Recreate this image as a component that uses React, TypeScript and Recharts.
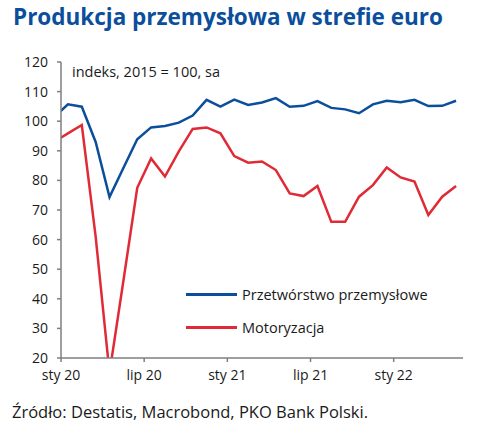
import { LineChart, Line, XAxis, YAxis } from 'recharts'

// monthly, Dec 2019 .. May 2022 (Dec 2019 only feeds the clipped line start)
const months = [
  '2019-12',
  '2020-01', '2020-02', '2020-03', '2020-04', '2020-05', '2020-06',
  '2020-07', '2020-08', '2020-09', '2020-10', '2020-11', '2020-12',
  '2021-01', '2021-02', '2021-03', '2021-04', '2021-05', '2021-06',
  '2021-07', '2021-08', '2021-09', '2021-10', '2021-11', '2021-12',
  '2022-01', '2022-02', '2022-03', '2022-04', '2022-05',
]

const manufacturing = [
  101.3,
  105.7, 104.9, 93.0, 74.4, 84.2, 93.9, 97.9, 98.4, 99.5, 101.9, 107.2, 104.9,
  107.3, 105.5, 106.3, 107.8, 104.9, 105.2, 106.8, 104.5, 104.0, 102.7, 105.7, 106.9,
  106.4, 107.2, 105.1, 105.2, 106.9,
]

const automotive = [
  93.0,
  95.9, 98.7, 61.0, 15.0, 46.0, 77.5, 87.4, 81.3, 89.8, 97.4, 97.9, 95.9,
  88.2, 86.0, 86.4, 83.5, 75.6, 74.7, 78.1, 66.0, 66.0, 74.5, 78.4, 84.4,
  81.0, 79.6, 68.3, 74.5, 78.1,
]

const yTicks = [20, 30, 40, 50, 60, 70, 80, 90, 100, 110, 120]
const xTicks = [0, 6, 12, 18, 24]
const xTickLabels = ['sty 20', 'lip 20', 'sty 21', 'lip 21', 'sty 22']

const seriesNames = ['Przetwórstwo przemysłowe', 'Motoryzacja']

const BLUE = '#0b4f9c'
const RED = '#e02a35'
const AXIS = '#7f7f7f'
const TEXT = '#1a1a1a'
const FONT = '"Open Sans", sans-serif'

// x = months since 1 Jan 2020, points sit mid-month
const data = months.map((m, i) => ({
  m,
  x: i - 0.5,
  manufacturing: manufacturing[i],
  automotive: automotive[i],
}))

function LegendBox() {
  const items = [
    { name: seriesNames[0], color: BLUE },
    { name: seriesNames[1], color: RED },
  ]
  return (
    <div style={{ position: 'absolute', left: 186, top: 278, fontSize: 14.5, color: TEXT }}>
      {items.map(it => (
        <div key={it.name} style={{ display: 'flex', alignItems: 'center', height: 33, whiteSpace: 'nowrap' }}>
          <span style={{ display: 'inline-block', width: 51, height: 3, background: it.color, marginRight: 5 }} />
          <span>{it.name}</span>
        </div>
      ))}
    </div>
  )
}

export default function App() {
  return (
    <div style={{ position: 'absolute', left: 0, top: 0, width: 489, height: 430, background: '#fff', fontFamily: FONT }}>
      <div style={{ position: 'absolute', left: 13, top: 1, fontSize: 22.5, fontWeight: 700, color: BLUE, whiteSpace: 'nowrap' }}>
        Produkcja przemysłowa w strefie euro
      </div>
      <LineChart width={489} height={430} data={data} margin={{ top: 62, right: 26, bottom: 42, left: 11 }}>
        <XAxis
          type="number"
          dataKey="x"
          domain={[0, 29]}
          ticks={xTicks}
          allowDataOverflow
          tickFormatter={(v: number) => xTickLabels[xTicks.indexOf(v)] ?? ''}
          height={30}
          stroke={AXIS}
          strokeWidth={1.5}
          tickSize={4}
          tickMargin={8}
          tick={{ fill: TEXT, fontSize: 14, fontFamily: FONT }}
        />
        <YAxis
          type="number"
          domain={[20, 120]}
          ticks={yTicks}
          allowDataOverflow
          width={50}
          stroke={AXIS}
          strokeWidth={1.5}
          tickSize={4}
          tickMargin={9}
          tick={{ fill: TEXT, fontSize: 14, fontFamily: FONT }}
        />
        <Line
          dataKey="manufacturing"
          name={seriesNames[0]}
          stroke={BLUE}
          strokeWidth={2.5}
          dot={false}
          isAnimationActive={false}
        />
        <Line
          dataKey="automotive"
          name={seriesNames[1]}
          stroke={RED}
          strokeWidth={2.5}
          dot={false}
          isAnimationActive={false}
        />
      </LineChart>
      <LegendBox />
      <div style={{ position: 'absolute', left: 72, top: 62, fontSize: 14.5, color: TEXT, whiteSpace: 'nowrap' }}>
        indeks, 2015 = 100, sa
      </div>
      <div style={{ position: 'absolute', left: 12, top: 400, fontSize: 16.5, color: TEXT, whiteSpace: 'nowrap' }}>
        Źródło: Destatis, Macrobond, PKO Bank Polski.
      </div>
    </div>
  )
}
